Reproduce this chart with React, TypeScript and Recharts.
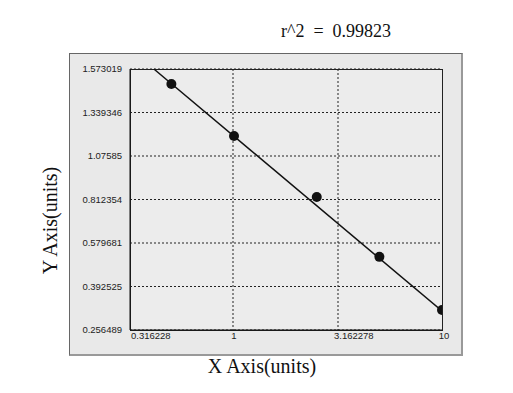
import React from 'react';
import { ComposedChart, Scatter, XAxis, YAxis, CartesianGrid } from 'recharts';

// standard curve readings
const concentrations = [0.5, 1, 2.5, 5, 10];
const odValues = [1.492, 1.197, 0.828, 0.52, 0.319];

// fitted line end points
const fitX = [0.412, 10];
const fitY = [1.573019, 0.316];

const xTicks = [0.316228, 1, 3.162278, 10];
const xTickLabels = ['0.316228', '1', '3.162278', '10'];
const yTickLabels = ['0.256489', '0.392525', '0.579681', '0.812354', '1.07585', '1.339346', '1.573019'];
const yTickValues = yTickLabels.map(Number);

// y axis labels are evenly spaced, so map a value to its slot position
const toSlot = (v: number) => {
  for (let i = 0; i < yTickValues.length - 1; i++) {
    const a = yTickValues[i];
    const b = yTickValues[i + 1];
    if (v <= b || i === yTickValues.length - 2) return i + (v - a) / (b - a);
  }
  return 0;
};

const points = concentrations.map((x, i) => ({ x, y: toSlot(odValues[i]) }));
const fit = fitX.map((x, i) => ({ x, y: toSlot(fitY[i]) }));

const XTick = (props: any) => {
  const { x, y, payload, index } = props;
  const anchor = index === 0 || index === 2 ? 'start' : 'middle';
  const dx = index === 0 ? 1 : index === 2 ? -4 : index === 3 ? 2 : 0;
  return (
    <text x={x + dx} y={y + 1} textAnchor={anchor} fontSize={9.5} fill="#222" fontFamily="Arial, 'Liberation Sans'">
      {xTickLabels[xTicks.indexOf(payload.value)]}
    </text>
  );
};

const App: React.FC = () => {
  return (
    <div style={{ position: 'absolute', left: 0, top: 0, width: 513, height: 393, background: '#fff' }}>
      <div style={{ position: 'absolute', left: 69, top: 53, width: 391, height: 300, background: '#e9e9e9', borderTop: '1px solid #666', borderLeft: '1px solid #666', borderRight: '2px solid #999', borderBottom: '2px solid #999' }} />
      <div style={{ position: 'absolute', left: 130, top: 69, width: 311, height: 260, background: '#ececec', border: '1px solid #222' }} />
      <div style={{ position: 'absolute', left: 0, top: 0 }}>
        <ComposedChart width={513} height={393} margin={{ top: 69, right: 71, bottom: 38, left: 70 }}>
          <CartesianGrid stroke="#222" strokeDasharray="2 2" verticalPoints={[233, 338]} />
          <XAxis
            type="number"
            dataKey="x"
            scale="log"
            domain={[0.316228, 10]}
            ticks={xTicks}
            allowDataOverflow
            axisLine={{ stroke: '#111' }}
            tickLine={false}
            height={25}
            tick={<XTick />}
          />
          <YAxis
            type="number"
            dataKey="y"
            domain={[0, 6]}
            ticks={[0, 1, 2, 3, 4, 5, 6]}
            width={60}
            axisLine={{ stroke: '#111' }}
            tickLine={false}
            tickFormatter={(v: number) => yTickLabels[v]}
            tick={{ fontSize: 9.5, fill: '#222', fontFamily: "Arial, 'Liberation Sans'" }}
            tickMargin={2}
          />
          <Scatter data={fit} line={{ stroke: '#111', strokeWidth: 1.5 }} shape={() => null} isAnimationActive={false} />
          <Scatter data={points} fill="#111" shape={(p: any) => <circle cx={p.cx} cy={p.cy} r={5} fill="#111" />} isAnimationActive={false} />
        </ComposedChart>
      </div>
      <div style={{ position: 'absolute', left: 236, top: 21, width: 200, textAlign: 'center', fontFamily: "'Times New Roman', 'Liberation Serif', serif", fontSize: 18, whiteSpace: 'pre', color: '#111' }}>
        {'r^2  =  0.99823'}
      </div>
      <div style={{ position: 'absolute', left: 162, top: 355, width: 200, textAlign: 'center', fontFamily: "'Times New Roman', 'Liberation Serif', serif", fontSize: 20, color: '#111' }}>
        X Axis(units)
      </div>
      <div style={{ position: 'absolute', left: 50, top: 222, width: 200, marginLeft: -100, marginTop: -13, textAlign: 'center', transform: 'rotate(-90deg)', fontFamily: "'Times New Roman', 'Liberation Serif', serif", fontSize: 20, color: '#111' }}>
        Y Axis(units)
      </div>
    </div>
  );
};

export default App;
